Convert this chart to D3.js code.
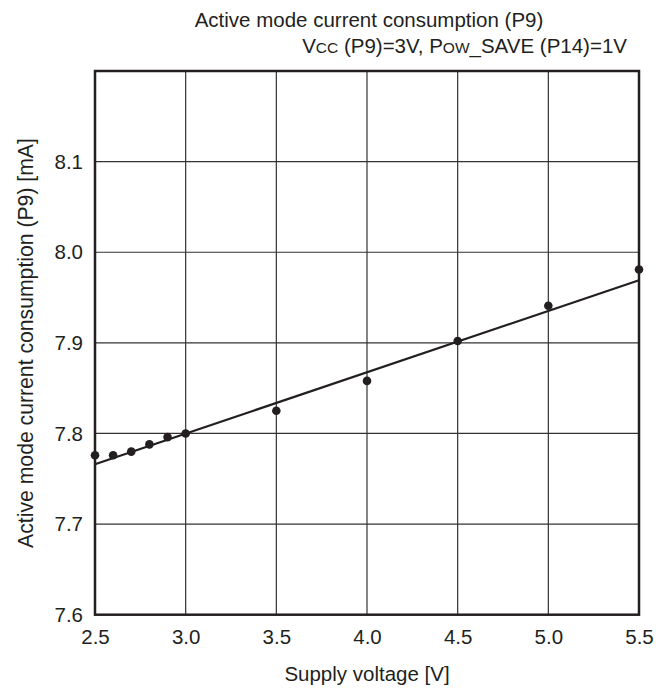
<!DOCTYPE html>
<html><head><meta charset="utf-8">
<script src="https://cdn.jsdelivr.net/npm/d3@7"></script>
<style>body{margin:0;background:#fff}svg{display:block}text{font-family:"Liberation Sans",Arial,Helvetica,sans-serif;fill:#231f20}</style>
</head><body>
<script>
const voltage = [2.5, 2.6, 2.7, 2.8, 2.9, 3.0, 3.5, 4.0, 4.5, 5.0, 5.5];
const current = [7.776, 7.776, 7.780, 7.788, 7.796, 7.800, 7.825, 7.858, 7.902, 7.941, 7.981];
const fitVoltage = [2.5, 5.5];
const fitCurrent = [7.766, 7.969];
const xTicks = [2.5, 3.0, 3.5, 4.0, 4.5, 5.0, 5.5];
const yTicks = [7.6, 7.7, 7.8, 7.9, 8.0, 8.1];

const W = 656, H = 693;
const m = {left: 95, right: 17, top: 71, bottom: 78.3};
const FS = 20.5;
const svg = d3.select("body").append("svg").attr("width", W).attr("height", H);
const x = d3.scaleLinear().domain([2.5, 5.5]).range([m.left, W - m.right]);
const y = d3.scaleLinear().domain([7.6, 8.2]).range([H - m.bottom, m.top]);
const ink = "#231f20";

// grid
svg.append("g").selectAll("line").data(xTicks.slice(1, -1)).join("line")
  .attr("x1", d => x(d)).attr("x2", d => x(d)).attr("y1", y(7.6)).attr("y2", y(8.2))
  .attr("stroke", "#333").attr("stroke-width", 1.2);
svg.append("g").selectAll("line").data(yTicks.slice(1)).join("line")
  .attr("y1", d => y(d)).attr("y2", d => y(d)).attr("x1", x(2.5)).attr("x2", x(5.5))
  .attr("stroke", "#333").attr("stroke-width", 1.2);

// axes labels
const xAxis = d3.axisBottom(x).tickValues(xTicks).tickFormat(d3.format(".1f")).tickSize(0).tickPadding(14.5);
const gx = svg.append("g").attr("transform", `translate(0,${y(7.6)})`).call(xAxis);
gx.select(".domain").remove();
gx.selectAll("text").attr("font-size", FS).style("fill", ink).attr("font-family", null);
const yAxis = d3.axisLeft(y).tickValues(yTicks).tickFormat(d3.format(".1f")).tickSize(0).tickPadding(12);
const gy = svg.append("g").attr("transform", `translate(${x(2.5)},0)`).call(yAxis);
gy.select(".domain").remove();
gy.selectAll("text").attr("font-size", FS).style("fill", ink).attr("font-family", null);

// frame
svg.append("rect").attr("x", x(2.5)).attr("y", y(8.2)).attr("width", x(5.5) - x(2.5)).attr("height", y(7.6) - y(8.2))
  .attr("fill", "none").attr("stroke", ink).attr("stroke-width", 2.5);

// fit line
const line = d3.line().x((d, i) => x(fitVoltage[i])).y((d, i) => y(fitCurrent[i]));
svg.append("path").datum(fitVoltage).attr("d", line).attr("fill", "none").attr("stroke", ink).attr("stroke-width", 2.2);

// points
svg.append("g").selectAll("circle").data(voltage).join("circle")
  .attr("cx", d => x(d)).attr("cy", (d, i) => y(current[i])).attr("r", 4.3).attr("fill", ink);

// titles
svg.append("text").attr("x", 369).attr("y", 27).attr("text-anchor", "middle").attr("font-size", FS)
  .text("Active mode current consumption (P9)");
const sub = svg.append("text").attr("x", 627).attr("y", 53).attr("text-anchor", "end").attr("font-size", FS);
sub.append("tspan").text("V");
sub.append("tspan").attr("font-size", 15.5).text("CC");
sub.append("tspan").text(" (P9)=3V, P");
sub.append("tspan").attr("font-size", 15.5).text("OW");
sub.append("tspan").text("_SAVE (P14)=1V");

svg.append("text").attr("x", 367).attr("y", 681).attr("text-anchor", "middle").attr("font-size", FS)
  .text("Supply voltage [V]");
svg.append("text").attr("transform", `translate(33,343) rotate(-90)`)
  .attr("text-anchor", "middle").attr("font-size", 21.2)
  .text("Active mode current consumption (P9) [mA]");
</script>
</body></html>
